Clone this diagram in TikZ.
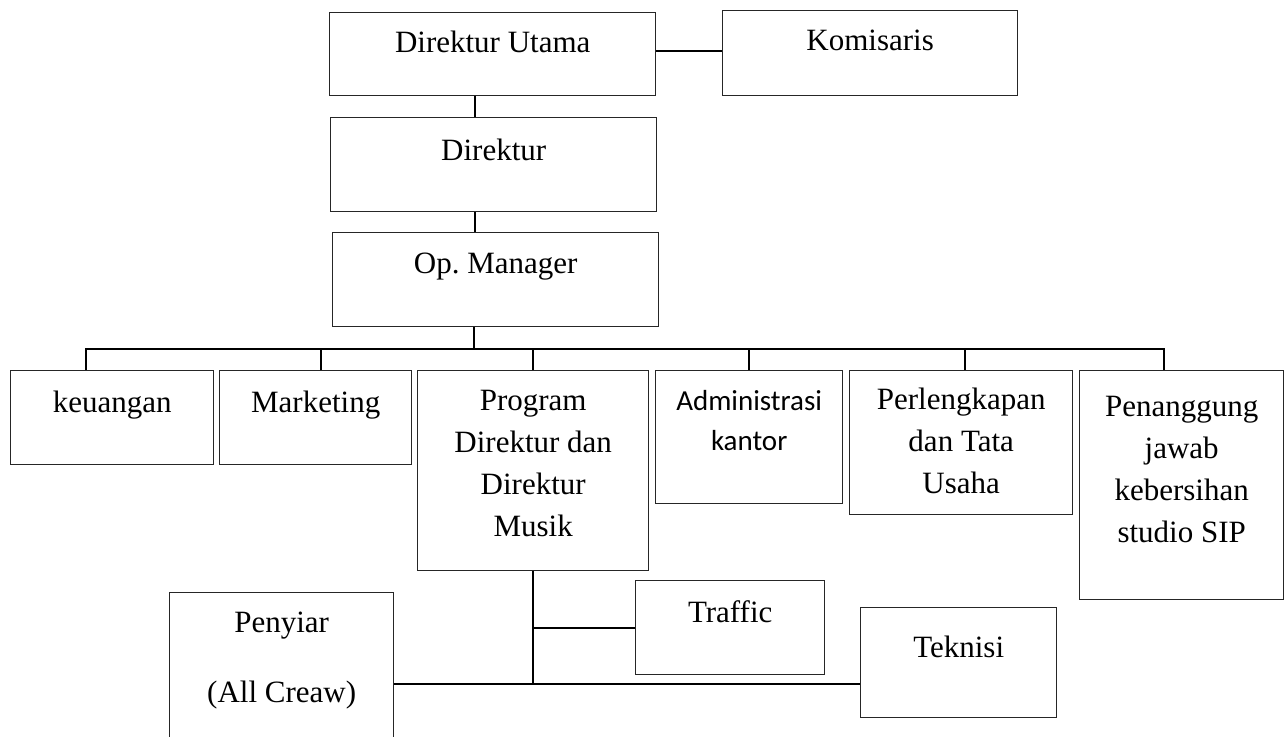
\documentclass[tikz,border=0pt]{standalone}
\usepackage{fontspec}
\setmainfont{Liberation Serif}
\newfontfamily\calibrifont{Carlito}
\usetikzlibrary{positioning}
\frenchspacing
\newcommand{\boxtext}[4]{\parbox[t][#2][t]{#1}{\centering\rule{0pt}{#3}#4}}
\tikzset{
  unit/.style={
    draw=black!85,
    line width=0.7pt,
    inner sep=0pt,
    anchor=north west,
    font=\fontsize{15.5pt}{21pt}\selectfont
  },
  unitsans/.style={
    unit,
    font=\calibrifont\fontsize{14.5pt}{20pt}\selectfont
  },
  link/.style={line width=1pt, draw=black}
}
\begin{document}
\begin{tikzpicture}[x=0.5pt, y=-0.5pt]
\useasboundingbox (0,0) rectangle (1287,736);
\clip (0,0) rectangle (1287,736);
\fill[white] (0,0) rectangle (1287,736);

\node[unit] (du) at (329,12) {\boxtext{163pt}{41.5pt}{20pt}{Direktur Utama}};
\node[unit] (kom) at (722,10) {\boxtext{147.5pt}{42.5pt}{20pt}{Komisaris}};
\node[unit] (dir) at (330,117) {\boxtext{163pt}{47pt}{21.5pt}{Direktur}};
\node[unit] (opm) at (332,232) {\boxtext{163pt}{47pt}{20.5pt}{Op.\ Manager}};

\node[unit] (keu) at (10,370) {\boxtext{101.5pt}{47pt}{21pt}{keuangan}};
\node[unit] (mkt) at (219,370) {\boxtext{96pt}{47pt}{21pt}{Marketing}};
\node[unit] (prog) at (417,370) {\boxtext{115.5pt}{100pt}{20pt}{Program\\Direktur dan\\Direktur\\Musik}};
\node[unitsans] (adm) at (655,370) {\boxtext{93.5pt}{66.5pt}{20pt}{Administrasi\\kantor}};
\node[unit] (perl) at (849,370) {\boxtext{111.5pt}{72pt}{19.5pt}{Perlengkapan\\dan Tata\\Usaha}};
\node[unit] (pen) at (1079,370) {\boxtext{102pt}{114.5pt}{23pt}{Penanggung\\jawab\\kebersihan\\studio SIP}};

\node[unit] (peny) at (169,592) {\boxtext{112pt}{79pt}{20pt}{Penyiar\\[14pt](All Creaw)}};
\node[unit] (traf) at (635,580) {\boxtext{94.5pt}{47pt}{21pt}{Traffic}};
\node[unit] (tek) at (860,607) {\boxtext{98pt}{55pt}{25pt}{Teknisi}};

\coordinate (trunk) at (475,0);
\coordinate (bus) at (474,349);
\coordinate (hub) at (532,684);

\draw[link] ([yshift=1.75pt]du.east) -- ([yshift=1.75pt]du.east -| kom.west);
\draw[link] (du.south -| trunk) -- (dir.north -| trunk);
\draw[link] (dir.south -| trunk) -- (opm.north -| trunk);
\draw[link] (opm.south -| bus) -- (bus);

\draw[link] ([xshift=-13.25pt]keu.north) |- (bus);
\draw[link] ([xshift=2.5pt]mkt.north) |- (bus);
\draw[link] (prog.north) |- (bus);
\draw[link] (adm.north) |- (bus);
\draw[link] ([xshift=1.75pt]perl.north) |- (bus);
\draw[link] ([xshift=-9pt]pen.north) |- (bus);

\draw[link] (prog.south) -- (prog.south |- hub);
\draw[link] (traf.west) -- (traf.west -| hub);
\draw[link] (peny.east |- hub) -- (tek.west |- hub);
\end{tikzpicture}
\end{document}
